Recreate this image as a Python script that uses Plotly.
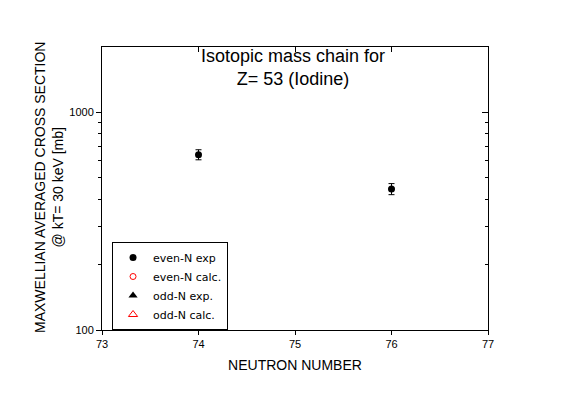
import plotly.graph_objects as go
import math

# Data
even_n_exp_x = [74, 76]
even_n_exp_y = [640, 445]
even_n_exp_err = [34, 26]
even_n_calc_x = []
even_n_calc_y = []
odd_n_exp_x = []
odd_n_exp_y = []
odd_n_calc_x = []
odd_n_calc_y = []

x_ticks = [73, 74, 75, 76, 77]
y_major = [100, 1000]
y_major_text = ["100", "1000"]
y_minor = [200, 300, 400, 500, 600, 700, 800, 900]

x_title = "NEUTRON NUMBER"
y_title_lines = ["MAXWELLIAN AVERAGED CROSS SECTION", "@ kT= 30 keV [mb]"]
title_lines = ["Isotopic mass chain for", "Z= 53 (Iodine)"]

FONT = "Liberation Sans, Arial, sans-serif"
LFONT = "DejaVu Sans, sans-serif"
yr = [2, math.log10(2000)]
xr = [73, 77]

fig = go.Figure()

def pad(v):
    return v if len(v) else [None]

fig.add_trace(go.Scatter(
    x=even_n_exp_x, y=even_n_exp_y, mode="markers", name="even-N exp",
    marker=dict(symbol="circle", size=7, color="black"),
    error_y=dict(type="data", array=even_n_exp_err, visible=True,
                 color="black", thickness=1, width=3)))
fig.add_trace(go.Scatter(
    x=pad(even_n_calc_x), y=pad(even_n_calc_y), mode="markers", name="even-N calc.",
    marker=dict(symbol="circle-open", size=6, color="red", line=dict(width=1))))
fig.add_trace(go.Scatter(
    x=pad(odd_n_exp_x), y=pad(odd_n_exp_y), mode="markers", name="odd-N exp.",
    marker=dict(symbol="triangle-up", size=8, color="black")))
fig.add_trace(go.Scatter(
    x=pad(odd_n_calc_x), y=pad(odd_n_calc_y), mode="markers", name="odd-N calc.",
    marker=dict(symbol="triangle-up-open", size=8, color="red", line=dict(width=1))))

# invisible carriers so the mirrored / minor-tick axes get drawn
for xa, ya in [("x2", "y"), ("x", "y2"), ("x", "y3"), ("x", "y4")]:
    fig.add_trace(go.Scatter(x=even_n_exp_x, y=even_n_exp_y, xaxis=xa, yaxis=ya,
                             mode="markers", marker=dict(opacity=0),
                             showlegend=False, hoverinfo="skip"))

axis_common = dict(showgrid=False, zeroline=False, linecolor="black",
                   linewidth=1, tickcolor="black", tickwidth=1, automargin=False)

# page body adds an 8px offset; margins compensate so the plot lands at 102..488 x 47..330
fig.update_layout(
    width=567, height=395,
    margin=dict(l=94, r=87, t=39, b=73, autoexpand=False),
    paper_bgcolor="white", plot_bgcolor="white",
    font=dict(family=FONT, color="black", size=11),
    showlegend=True,
    legend=dict(x=0.026, y=(330 - 242) / 283, xanchor="left", yanchor="top",
                bordercolor="black", borderwidth=1, bgcolor="white",
                font=dict(family=LFONT, size=11), tracegroupgap=0),
    xaxis=dict(range=xr, tickvals=x_ticks, ticks="outside", ticklen=4,
               showline=True, title=dict(text=x_title, font=dict(size=14), standoff=10),
               tickfont=dict(size=11), **axis_common),
    xaxis2=dict(range=xr, overlaying="x", side="top", anchor="y", tickvals=x_ticks,
                ticks="inside", ticklen=5, showline=True, showticklabels=False,
                **axis_common),
    yaxis=dict(type="log", range=yr, tickvals=y_major, ticktext=y_major_text,
               ticks="outside", ticklen=5, showline=True, tickfont=dict(size=11),
               **axis_common),
    yaxis3=dict(type="log", range=yr, overlaying="y", side="left", anchor="x",
                tickvals=y_minor, ticks="outside", ticklen=3, showline=False,
                showticklabels=False, **axis_common),
    yaxis2=dict(type="log", range=yr, overlaying="y", side="right", anchor="x",
                tickvals=y_major, ticks="inside", ticklen=6, showline=True,
                showticklabels=False, **axis_common),
    yaxis4=dict(type="log", range=yr, overlaying="y", side="right", anchor="x",
                tickvals=y_minor, ticks="inside", ticklen=3, showline=False,
                showticklabels=False, **axis_common),
)

fig.add_annotation(text="<br>".join(title_lines), xref="paper", yref="paper",
                   x=(293 - 102) / 386, y=(330 - 68) / 283, xanchor="center",
                   yanchor="middle", showarrow=False,
                   font=dict(family=FONT, size=18))
fig.add_annotation(text="<br>".join(y_title_lines), xref="paper", yref="paper",
                   x=(49 - 102) / 386, y=(330 - 188) / 283, xanchor="center",
                   yanchor="middle", showarrow=False, textangle=-90,
                   font=dict(family=FONT, size=14))

fig.write_html("out.html")
